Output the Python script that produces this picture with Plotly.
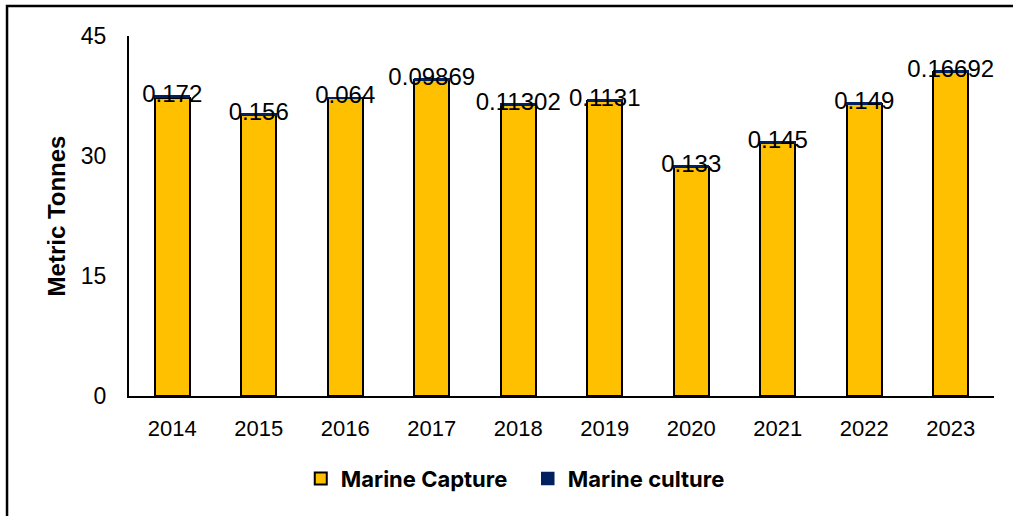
import plotly.graph_objects as go

years = ["2014", "2015", "2016", "2017", "2018", "2019", "2020", "2021", "2022", "2023"]
marine_capture = [37.3, 35.1, 37.25, 39.5, 36.4, 36.9, 28.6, 31.65, 36.45, 40.45]
marine_culture = [0.172, 0.156, 0.064, 0.09869, 0.11302, 0.1131, 0.133, 0.145, 0.149, 0.16692]
culture_labels = ["0.172", "0.156", "0.064", "0.09869", "0.11302", "0.1131", "0.133", "0.145", "0.149", "0.16692"]

totals = [c + m for c, m in zip(marine_capture, marine_culture)]

fig = go.Figure()
fig.add_trace(go.Bar(
    x=years, y=marine_capture, name="Marine Capture",
    marker=dict(color="#FFC000", line=dict(color="#000000", width=2)),
    width=0.4,
))
fig.add_trace(go.Bar(
    x=years, y=marine_culture, name="Marine culture",
    marker=dict(color="#002060", line=dict(color="#002060", width=1.5)),
    width=0.4,
))
# value labels of the culture series, sitting on top of each stack
fig.add_trace(go.Scatter(
    x=years, y=totals, mode="text", text=culture_labels,
    textposition="middle center",
    textfont=dict(family="Liberation Sans, Arial", size=24, color="#000000"),
    showlegend=False, hoverinfo="skip",
))

fig.update_layout(
    barmode="stack",
    width=1013, height=516,
    margin=dict(l=129, r=19, t=36, b=120),
    plot_bgcolor="white", paper_bgcolor="white",
    font=dict(family="Liberation Sans, Arial", size=22, color="#000000"),
    bargap=0.6,
    legend=dict(
        orientation="h", x=0.461, xanchor="center", y=-0.23, yanchor="middle",
        font=dict(family="Inter, Liberation Sans", size=22, color="#000000", weight="bold"),
        itemwidth=30, entrywidth=182, traceorder="normal",
    ),
    shapes=[dict(
        type="rect", xref="paper", yref="paper",
        x0=-0.141, x1=1.2, y0=-0.6, y1=1.083,
        line=dict(color="#000000", width=2.5), fillcolor="rgba(0,0,0,0)",
        layer="below",
    )],
)
fig.update_xaxes(
    showline=True, linecolor="#000000", linewidth=2,
    ticks="", showgrid=False, ticklabelstandoff=12,
    tickfont=dict(family="Liberation Sans, Arial", size=22),
)
fig.update_yaxes(
    range=[0, 45], tickvals=[0, 15, 30, 45],
    showline=True, linecolor="#000000", linewidth=2,
    ticks="", ticklabelstandoff=16,
    showgrid=False, zeroline=False,
    tickfont=dict(family="Liberation Sans, Arial", size=23),
    title=dict(text="Metric Tonnes", font=dict(family="Liberation Sans, Arial", size=24, weight="bold"), standoff=8),
)

fig.write_html("out.html")
